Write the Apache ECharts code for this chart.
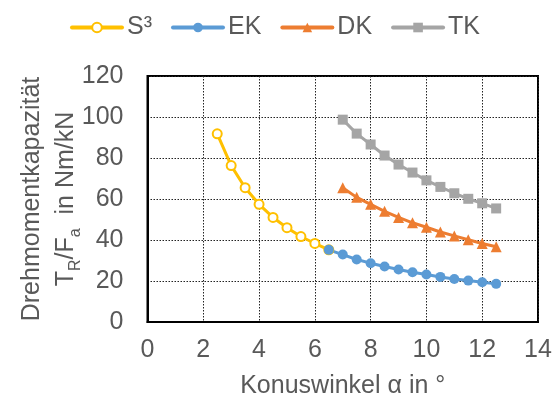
<!DOCTYPE html>
<html>
<head>
<meta charset="utf-8">
<script src="https://cdn.jsdelivr.net/npm/echarts@6/dist/echarts.min.js"></script>
<style>
  html, body { margin: 0; padding: 0; background: #fff; }
  #main { width: 558px; height: 405px; }
</style>
</head>
<body>
<div id="main"></div>
<script>
// values
const xS3 = [2.5, 3, 3.5, 4, 4.5, 5, 5.5, 6, 6.5];
const yS3 = [91.8, 76.3, 65.5, 57.4, 51.0, 46.0, 41.7, 38.3, 35.2];
const xEK = [6.5, 7, 7.5, 8, 8.5, 9, 9.5, 10, 10.5, 11, 11.5, 12, 12.5];
const yEK = [35.2, 32.9, 30.5, 28.7, 27.1, 25.6, 24.3, 23.2, 22.0, 21.0, 20.2, 19.4, 18.6];
const xDK = [7, 7.5, 8, 8.5, 9, 9.5, 10, 10.5, 11, 11.5, 12, 12.5];
const yDK = [65.5, 60.8, 57.4, 54.0, 51.0, 48.4, 46.2, 43.9, 42.0, 40.1, 38.3, 36.7];
const xTK = [7, 7.5, 8, 8.5, 9, 9.5, 10, 10.5, 11, 11.5, 12, 12.5];
const yTK = [98.7, 91.9, 86.6, 81.2, 76.8, 72.9, 69.1, 65.9, 62.8, 60.1, 57.9, 55.4];

const pair = (xs, ys) => xs.map((x, i) => [x, ys[i]]);
const txt = '#595959';

const chart = echarts.init(document.getElementById('main'));
chart.setOption({
  animation: false,
  textStyle: { fontFamily: 'Liberation Sans, Arial, sans-serif' },
  legend: {
    left: 65,
    top: 10,
    itemWidth: 50,
    itemHeight: 12,
    itemGap: 19,
    lineStyle: { width: 4, cap: 'round' },
    textStyle: { fontSize: 25, color: txt },
    data: ['S³', 'EK', 'DK', 'TK']
  },
  grid: {
    left: 147.5, right: 20, top: 76, bottom: 83,
    show: true, borderColor: '#000', borderWidth: 2
  },
  xAxis: {
    type: 'value', min: 0, max: 14, interval: 2,
    name: 'Konuswinkel α in °',
    nameLocation: 'middle', nameGap: 52,
    nameTextStyle: { fontSize: 25, color: txt },
    axisLine: { lineStyle: { color: '#000', width: 2 } },
    axisTick: { show: false },
    axisLabel: { fontSize: 25, color: txt, margin: 16 },
    splitLine: { lineStyle: { color: '#222', type: [1.5, 1.5], width: 1 } }
  },
  yAxis: {
    type: 'value', min: 0, max: 120, interval: 20,
    name: '{a|Drehmomentkapazität}\n{a|T}{s|R}{a|/F}{s|a}{a|  in Nm/kN}',
    nameLocation: 'middle', nameGap: 64,
    nameMoveOverlap: false,
    nameTextStyle: {
      color: txt,
      rich: {
        a: { fontSize: 25, color: txt, lineHeight: 34 },
        s: { fontSize: 16, color: txt, lineHeight: 34, verticalAlign: 'bottom', padding: [12, 0, 0, 0] }
      }
    },
    axisLine: { show: true, lineStyle: { color: '#000', width: 2 } },
    axisTick: { show: false },
    axisLabel: { fontSize: 25, color: txt, margin: 24 },
    splitLine: { lineStyle: { color: '#222', type: [1.5, 1.5], width: 1 } }
  },
  series: [
    {
      name: 'S³', type: 'line', data: pair(xS3, yS3),
      symbol: 'emptyCircle', symbolSize: 9,
      lineStyle: { color: '#FFC000', width: 3 },
      itemStyle: { color: '#FFC000', borderWidth: 1.5 }
    },
    {
      name: 'EK', type: 'line', data: pair(xEK, yEK),
      symbol: 'circle', symbolSize: 10,
      lineStyle: { color: '#5B9BD5', width: 3 },
      itemStyle: { color: '#5B9BD5' }
    },
    {
      name: 'DK', type: 'line', data: pair(xDK, yDK),
      symbol: 'triangle', symbolSize: 11,
      lineStyle: { color: '#ED7D31', width: 3 },
      itemStyle: { color: '#ED7D31' }
    },
    {
      name: 'TK', type: 'line', data: pair(xTK, yTK),
      symbol: 'rect', symbolSize: 10,
      lineStyle: { color: '#A5A5A5', width: 3 },
      itemStyle: { color: '#A5A5A5' }
    }
  ]
});
</script>
</body>
</html>
